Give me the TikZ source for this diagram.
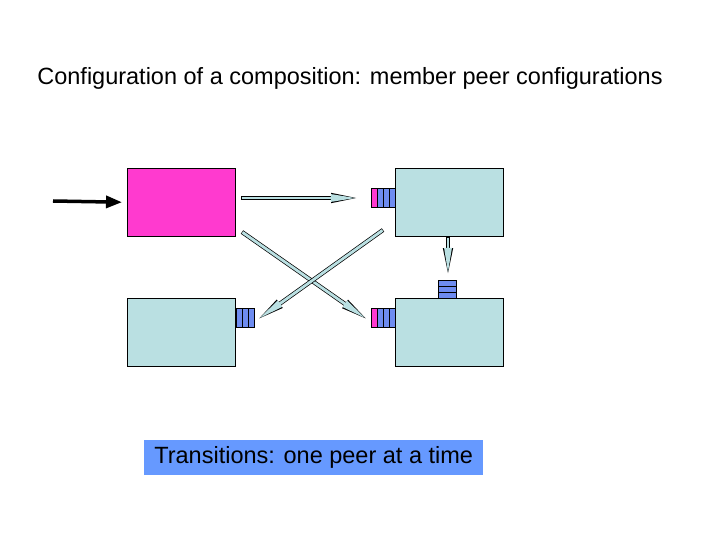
\documentclass[tikz,border=0pt]{standalone}
\usepackage{fontspec}
\setmainfont{Liberation Sans}
\usetikzlibrary{arrows.meta,calc}
\definecolor{pk}{HTML}{FF3ACF}
\definecolor{lb}{HTML}{BAE0E2}
\definecolor{qb}{HTML}{6E8CF0}
\definecolor{tb}{HTML}{6699FF}
\begin{document}
\begin{tikzpicture}[x=1pt,y=-1pt,
 box/.style={draw=black,line width=0.6pt,minimum width=108pt,minimum height=68pt,anchor=north west,inner sep=0},
 cell/.style={draw=black,line width=0.5pt,fill=qb,anchor=north west,inner sep=0},
 fatout/.style={line width=4.2pt,draw=black,-{Triangle[length=28pt,width=9pt]},shorten >=0pt},
 fatin/.style={line width=2.8pt,draw=lb,-{Triangle[length=26pt,width=7pt]}}]
\useasboundingbox (0,0) rectangle (720,540);
\node at (350,78) {\fontsize{23.5}{28}\selectfont Configuration of a composition: member peer configurations};
\node[box,fill=pk] (a) at (127,168) {};
\node[box,fill=lb] (b) at (395,168) {};
\node[box,fill=lb] (c) at (127,298) {};
\node[box,fill=lb] (d) at (395,298) {};
% queues
\node[cell,fill=pk,minimum width=6pt,minimum height=19pt] (q1) at (371,188) {};
\foreach \i in {0,1,2}{\node[cell,minimum width=6pt,minimum height=19pt] at (377+6*\i,188) {};}
\node[cell,fill=pk,minimum width=6pt,minimum height=19pt] (q2) at (371,308) {};
\foreach \i in {0,1,2}{\node[cell,minimum width=6pt,minimum height=19pt] at (377+6*\i,308) {};}
\foreach \i in {0,1,2}{\node[cell,minimum width=6pt,minimum height=19pt] at (236+6*\i,308) {};}
\foreach \i in {0,1,2}{\node[cell,minimum width=18pt,minimum height=6pt] at (438,280+6*\i) {};}
% arrows
\coordinate (h1) at (241,198); \coordinate (h2) at (359,198);
\coordinate (d1) at (242,232); \coordinate (d2) at (368,320);
\coordinate (e1) at (383,230); \coordinate (e2) at (257,320);
\coordinate (v1) at (448,237); \coordinate (v2) at (448,276);
\foreach \p/\q in {h1/h2,d1/d2,e1/e2,v1/v2}{
 \draw[fatout] (\p) -- (\q);
 \draw[fatin,shorten >=1pt] ($(\p)!0.6pt!(\q)$) -- ($(\q)!1.2pt!(\p)$);
}
\coordinate (s) at (53,201);
\draw[line width=3.5pt,-{Triangle[length=16pt,width=12pt]},shorten >=5pt] (s) -- (a.west);
\node[fill=tb,minimum width=339pt,minimum height=35pt,anchor=north west,inner sep=0] (t) at (144,440) {};
\node at (t.center) {\fontsize{23.5}{28}\selectfont Transitions: one peer at a time};
\end{tikzpicture}
\end{document}
